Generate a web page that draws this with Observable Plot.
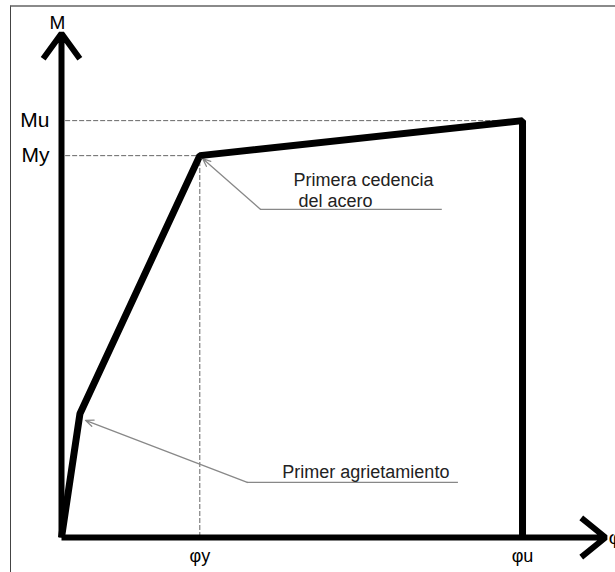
<!DOCTYPE html>
<html>
<head>
<meta charset="utf-8">
<script src="https://cdn.jsdelivr.net/npm/d3@7"></script>
<script src="https://cdn.jsdelivr.net/npm/@observablehq/plot@0.6"></script>
<style>
  html, body { margin: 0; padding: 0; background: #fff; }
  #wrap { position: relative; width: 615px; height: 572px; overflow: hidden; }
  #frame { position: absolute; left: 10px; top: 5px; width: 620px; height: 580px;
           border-top: 2px solid #8a8a8a; border-left: 1.5px solid #444; box-sizing: border-box; pointer-events: none; }
</style>
</head>
<body>
<div id="wrap"><div id="frame"></div></div>
<script>
// Moment–curvature idealised curve (normalised: phiU = 1, Mu = 1)
const curvePhi = [0, 0.04, 0.30, 1.00, 1.00];
const curveM   = [0, 0.297, 0.916, 1.00, 0];

const phiY = 0.30, phiU = 1.00;
const My = 0.916, Mu = 1.00;
const phiAxisEnd = 1.18, mAxisEnd = 1.209;

const yTickValues = [My, Mu];
const yTickLabels = ["My", "Mu"];
const xTickValues = [phiY, phiU];
const xTickLabels = ["φy", "φu"];

// annotations
const noteTexts = ["Primera cedencia", "del acero", "Primer agrietamiento"];
const noteX = [0.503, 0.514, 0.479];
const noteY = [0.857, 0.807, 0.156];

// leader lines: end of horizontal, bend, arrow tip
const leaderEndX  = [0.826, 0.861];
const leaderBendX = [0.432, 0.403];
const leaderBendY = [0.787, 0.132];
const leaderTipX  = [0.306, 0.052];
const leaderTipY  = [0.909, 0.281];

const curve = curvePhi.map((x, i) => ({x, y: curveM[i]}));
const notes = noteTexts.map((t, i) => ({t, x: noteX[i], y: noteY[i]}));
const leaders = leaderEndX.map((e, i) => ({e, bx: leaderBendX[i], by: leaderBendY[i], tx: leaderTipX[i], ty: leaderTipY[i]}));
const yLab = new Map(yTickValues.map((v, i) => [v, yTickLabels[i]]));
const xLab = new Map(xTickValues.map((v, i) => [v, xTickLabels[i]]));

const gray = "#666";
const plot = Plot.plot({
  width: 615,
  height: 572,
  marginLeft: 61,
  marginRight: 10,
  marginTop: 33,
  marginBottom: 35,
  style: {fontFamily: "'Liberation Sans', Arial, sans-serif", fontSize: "20px", background: "transparent", color: "#000"},
  x: {domain: [0, phiAxisEnd]},
  y: {domain: [0, mAxisEnd]},
  marks: [
    // dashed guides
    Plot.ruleY([Mu], {x1: 0.009, x2: phiU, stroke: gray, strokeWidth: 1, strokeDasharray: "5,2"}),
    Plot.ruleY([My], {x1: 0.009, x2: phiY, stroke: gray, strokeWidth: 1, strokeDasharray: "5,2"}),
    Plot.ruleX([phiY], {y1: 0, y2: My, stroke: gray, strokeWidth: 1, strokeDasharray: "5,2"}),
    // leader lines
    Plot.ruleY(leaders, {y: "by", x1: "bx", x2: "e", stroke: "#888", strokeWidth: 1.3}),
    Plot.arrow(leaders, {x1: "bx", y1: "by", x2: "tx", y2: "ty", stroke: "#888", strokeWidth: 1.3, headLength: 10, headAngle: 45}),
    // axes with arrowheads
    Plot.arrow([0], {x1: 0, y1: 0, x2: phiAxisEnd, y2: 0, stroke: "#000", strokeWidth: 6, headLength: 7.8, headAngle: 78, strokeLinejoin: "miter", strokeLinecap: "butt"}),
    Plot.arrow([0], {x1: 0, y1: 0, x2: 0, y2: mAxisEnd, stroke: "#000", strokeWidth: 6, headLength: 7.8, headAngle: 72, strokeLinejoin: "miter", strokeLinecap: "butt"}),
    // curve
    Plot.line(curve, {x: "x", y: "y", stroke: "#000", strokeWidth: 7, strokeLinejoin: "miter", strokeLinecap: "butt"}),
    // axis tick labels
    Plot.axisY({ticks: yTickValues, tickFormat: d => yLab.get(d), tickSize: 0, tickPadding: 12, fontSize: 21, label: null}),
    Plot.axisX({ticks: xTickValues, tickFormat: d => xLab.get(d), tickSize: 0, tickPadding: 12, fontSize: 18, label: null}),
    // axis titles
    Plot.text(["M"], {x: 0, y: 1.235, text: d => d, dx: -4, fontSize: 19}),
    Plot.text(["φ"], {x: 1.187, y: 0, text: d => d, textAnchor: "start", fontSize: 19}),
    // annotation texts
    Plot.text(notes, {x: "x", y: "y", text: "t", textAnchor: "start", fontSize: 18, fill: "#222"})
  ]
});
document.getElementById("wrap").insertBefore(plot, document.getElementById("frame"));
</script>
</body>
</html>
